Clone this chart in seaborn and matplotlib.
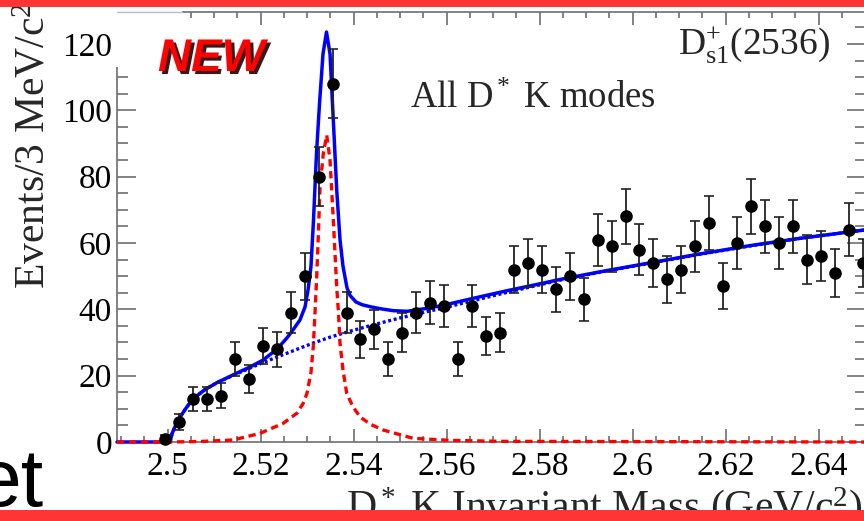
import matplotlib
matplotlib.use("Agg")
import matplotlib.pyplot as plt
import matplotlib.patheffects as pe
import matplotlib.ticker as mtick
from matplotlib.patches import Rectangle
from matplotlib.lines import Line2D
import numpy as np
import seaborn as sns

# ── Data ───────────────────────────────────────────────────────────────────
bin_centers = [
    2.4995, 2.5025, 2.5055, 2.5085, 2.5115, 2.5145, 2.5175, 2.5205, 2.5235, 2.5265,
    2.5295, 2.5325, 2.5355, 2.5385, 2.5415, 2.5445, 2.5475, 2.5505, 2.5535, 2.5565,
    2.5595, 2.5625, 2.5655, 2.5685, 2.5715, 2.5745, 2.5775, 2.5805, 2.5835, 2.5865,
    2.5895, 2.5925, 2.5955, 2.5985, 2.6015, 2.6045, 2.6075, 2.6105, 2.6135, 2.6165,
    2.6195, 2.6225, 2.6255, 2.6285, 2.6315, 2.6345, 2.6375, 2.6405, 2.6435, 2.6465,
    2.6495,
]
counts = [
    1, 6, 13, 13, 14, 25, 19, 29, 28, 39,
    50, 80, 108, 39, 31, 34, 25, 33, 39, 42,
    41, 25, 41, 32, 33, 52, 54, 52, 46, 50,
    43, 61, 59, 68, 58, 54, 49, 52, 59, 66,
    47, 60, 71, 65, 60, 65, 55, 56, 51, 64,
    54,
]

# total fit (solid blue)
total_x = [2.48914, 2.50054, 2.50097, 2.50161, 2.50269, 2.50398, 2.50548, 2.50806,
           2.51065, 2.51495, 2.51774, 2.52054, 2.52355, 2.52570, 2.52699, 2.52849,
           2.52957, 2.53022, 2.53086, 2.53140, 2.53204, 2.53269, 2.53344, 2.53419,
           2.53495, 2.53566, 2.53639, 2.53710, 2.53774, 2.53860, 2.53925, 2.54054,
           2.54183, 2.54355, 2.54570, 2.54849, 2.55151, 2.55581, 2.55925, 2.56570,
           2.57301, 2.58011, 2.58441, 2.59301, 2.60376, 2.61452, 2.62527, 2.63602,
           2.64978]
total_y = [0, 0, 2.5, 4.6, 7.5, 10.2, 13.0, 15.8,
           17.9, 20.8, 22.6, 24.7, 28.0, 31.4, 33.8, 36.8,
           40.7, 45.8, 53.0, 67.0, 87.0, 102.0, 117.0, 123.6,
           117.0, 97.0, 76.0, 61.0, 53.0, 46.5, 44.2, 42.2,
           41.4, 40.8, 40.2, 39.6, 39.4, 40.3, 41.2, 43.3,
           45.6, 47.7, 49.0, 51.3, 54.0, 56.7, 59.2, 61.4,
           63.9]

# background (dotted blue)
bkg_x = [2.50054, 2.50097, 2.50161, 2.50269, 2.50398, 2.50548, 2.50806, 2.51065,
         2.51495, 2.51925, 2.52355, 2.52849, 2.53129, 2.53495, 2.53925, 2.54419,
         2.55000, 2.55366, 2.55925, 2.56570, 2.57301, 2.58011, 2.58441, 2.59301,
         2.60376, 2.61452, 2.62527, 2.63602, 2.64978]
bkg_y = [0, 2.5, 4.6, 7.5, 10.2, 13.0, 15.8, 17.9,
         20.6, 23.2, 25.6, 28.3, 29.8, 31.6, 33.4, 35.3,
         37.4, 38.6, 40.4, 42.6, 45.1, 47.4, 48.8, 51.2,
         53.9, 56.6, 59.1, 61.4, 63.9]

# signal (dashed red)
sig_x = [2.48914, 2.50054, 2.50699, 2.51409, 2.51989, 2.52484, 2.52785, 2.52920,
         2.53000, 2.53086, 2.53135, 2.53172, 2.53209, 2.53243, 2.53280, 2.53351,
         2.53424, 2.53495, 2.53566, 2.53639, 2.53677, 2.53710, 2.53774, 2.53854,
         2.53989, 2.54140, 2.54355, 2.54641, 2.55286, 2.56075, 2.57151, 2.64978]
sig_y = [0, 0, 0.15, 0.6, 2.6, 5.6, 8.7, 11.7,
         14.7, 21.0, 28.7, 38.8, 50.0, 62.0, 77.0, 87.0,
         92.5, 85.0, 67.0, 46.7, 39.0, 29.8, 21.7, 14.7,
         10.6, 7.6, 5.4, 3.6, 1.1, 0.5, 0.2, 0]

W, H = 864, 521
BLUE = "#0000ff"
RED = "#ff0000"
BAR_RED = "#ff3535"
TICK_GREY = "#6e6e6e"

sns.set_theme(style="ticks")
plt.rcParams["font.family"] = ["Liberation Serif", "DejaVu Serif"]
plt.rcParams["mathtext.fontset"] = "custom"
plt.rcParams["mathtext.rm"] = "Liberation Serif"
plt.rcParams["mathtext.it"] = "Liberation Serif:italic"

fig = plt.figure(figsize=(W / 100, H / 100), dpi=100)
fig.patch.set_facecolor("white")

# axes frame in pixel terms: left 117, right ~866, bottom 442, top 12
ax = fig.add_axes([117 / W, 1 - 442 / H, (866 - 117) / W, (442 - 12) / H])
ax.set_facecolor("white")

# ── Curves ─────────────────────────────────────────────────────────────────
sns.lineplot(x=bkg_x, y=bkg_y, ax=ax, color=BLUE, lw=2.4,
             linestyle=(0, (0.9, 0.8)), sort=False, estimator=None,
             clip_on=False, zorder=2)
sns.lineplot(x=total_x, y=total_y, ax=ax, color=BLUE, lw=2.5,
             sort=False, estimator=None, clip_on=False, zorder=3)
sns.lineplot(x=sig_x, y=sig_y, ax=ax, color=RED, lw=2.4,
             linestyle=(0, (2.2, 1.4)), sort=False, estimator=None,
             clip_on=False, zorder=4)

# ── Data points ────────────────────────────────────────────────────────────
errs = np.sqrt(np.array(counts, dtype=float))
ax.errorbar(bin_centers, counts, yerr=errs, fmt="none", ecolor="#222222",
            elinewidth=1.3, capsize=3.5, capthick=1.2, zorder=5, clip_on=False)
sns.scatterplot(x=bin_centers, y=counts, ax=ax, color="black", s=82,
                linewidth=0, zorder=6, clip_on=False)

# ── Axes styling (ROOT-like) ───────────────────────────────────────────────
ax.set_xlim(2.5 + (117 - 167.5) / 4650, 2.5 + (866 - 167.5) / 4650)
ax.set_ylim(0, (442 - 12) / 3.317)
ax.xaxis.set_major_locator(mtick.MultipleLocator(0.02))
ax.xaxis.set_minor_locator(mtick.MultipleLocator(0.005))
ax.yaxis.set_major_locator(mtick.MultipleLocator(20))
ax.yaxis.set_minor_locator(mtick.MultipleLocator(5))
ax.xaxis.set_major_formatter(mtick.FuncFormatter(lambda v, p: f"{v:g}"))
ax.yaxis.set_major_formatter(mtick.FuncFormatter(lambda v, p: f"{v:g}"))

ax.tick_params(which="both", direction="in", top=True, right=True,
               color=TICK_GREY, width=1.2, labelsize=24, labelcolor="black")
ax.tick_params(axis="x", which="major", length=9.4, pad=7)
ax.tick_params(axis="x", which="minor", length=4.5)
ax.tick_params(axis="y", which="major", length=14, pad=3.6)
ax.tick_params(axis="y", which="minor", length=8)
for side in ax.spines.values():
    side.set_color(TICK_GREY)
    side.set_linewidth(1.2)
ax.set_xlabel("")
ax.set_ylabel("")

# white patch over the top-left corner of the frame (as in the slide)
fig.patches.append(Rectangle((114 / W, 1 - 67 / H), 68 / W, 57 / H,
                             transform=fig.transFigure, facecolor="white",
                             edgecolor="none", zorder=1))
fig.lines.append(Line2D([117 / W, 182 / W], [1 - 11.5 / H, 1 - 11.5 / H],
                        transform=fig.transFigure, color="#bbbbbb", lw=1,
                        zorder=1.5))

# ── Texts ──────────────────────────────────────────────────────────────────
fig.text(34 / W, 1 - 146 / H, "Events/3 MeV/c$^2$", rotation=90,
         ha="center", va="center", fontsize=30, zorder=3)
fig.text(862 / W, 1 - 519 / H, "D$^*$ K Invariant Mass (GeV/c$^2$)",
         ha="right", va="baseline", fontsize=30, zorder=3)
fig.text(410 / W, 1 - 108 / H, "All D$^*$ K modes",
         ha="left", va="baseline", fontsize=26.5, zorder=3)
fig.text(678 / W, 1 - 55 / H, "D$_{\\rm s1}^{+}$(2536)",
         ha="left", va="baseline", fontsize=27, zorder=3)
fig.text(158 / W, 1 - 71 / H, "NEW", ha="left", va="baseline",
         fontsize=33, fontweight="bold", fontstyle="italic", color=RED,
         family=["Liberation Sans", "DejaVu Sans"], zorder=4,
         path_effects=[pe.withSimplePatchShadow(offset=(2.2, -2.2),
                                                shadow_rgbFace="#200000",
                                                alpha=0.9)])
fig.text(44 / W, 1 - 506 / H, "et", ha="right", va="baseline",
         fontsize=58, color="black",
         family=["Liberation Sans", "DejaVu Sans"], zorder=3)

# red slide bars
fig.patches.append(Rectangle((0, 1 - 7 / H), 1, 7 / H, transform=fig.transFigure,
                             facecolor=BAR_RED, edgecolor="none", zorder=10))
fig.patches.append(Rectangle((0, 0), 1, 11 / H, transform=fig.transFigure,
                             facecolor=BAR_RED, edgecolor="none", zorder=10))

fig.savefig("out.png", dpi=100)
plt.close(fig)
